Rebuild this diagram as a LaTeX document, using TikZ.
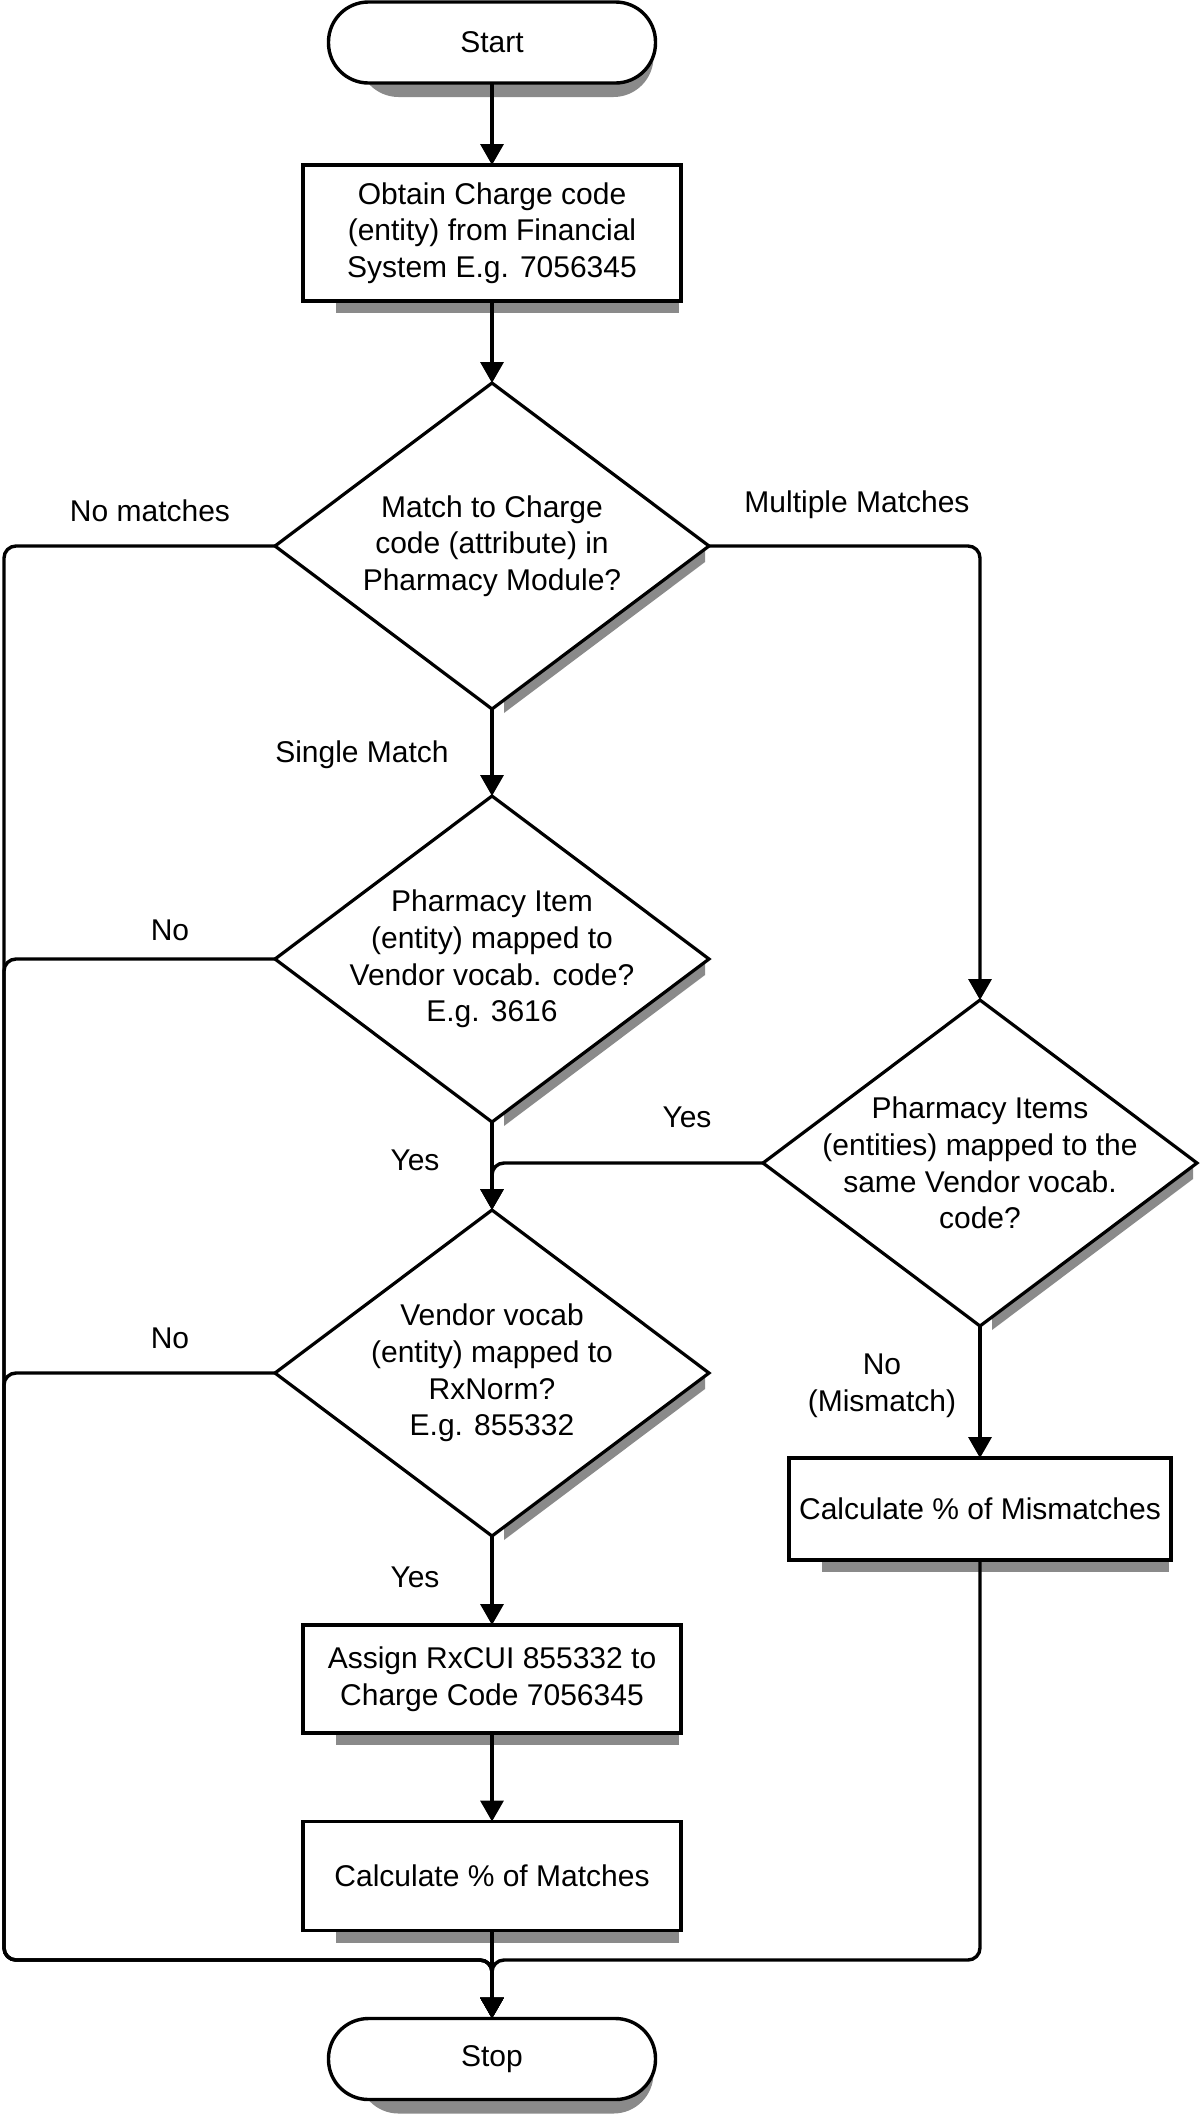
\documentclass[tikz,border=0pt]{standalone}
\usepackage{fontspec}
\setmainfont{Liberation Sans}
\usetikzlibrary{shapes.geometric,arrows.meta,backgrounds}
\definecolor{shd}{RGB}{138,138,138}
\begin{document}
\begin{tikzpicture}[x=0.5pt,y=-0.5pt,
  txt/.style={font=\fontsize{15pt}{18.3pt}\selectfont, align=center, inner sep=0pt},
  term/.style={draw, line width=1.7pt, fill=white, rounded corners=20pt, minimum width=163.5pt, minimum height=40.5pt, inner sep=0pt, outer sep=0pt, txt},
  proc/.style={draw, line width=1.7pt, fill=white, minimum width=189pt, inner sep=0pt, outer sep=0pt, txt},
  dec/.style={draw, diamond, line width=1.6pt, fill=white, minimum width=217pt, minimum height=163pt, inner sep=0pt, outer sep=0pt},
  conn/.style={draw, line width=1.7pt, rounded corners=6pt, -{Triangle[length=10.5pt,width=11.5pt]}},
  lbl/.style={txt}
]
\useasboundingbox (0,0) rectangle (1200,2115);

% nodes
\node[term] (start) at (492,42.5) {Start};
\node[proc, minimum height=68pt] (b1) at (492,233) {Obtain Charge code\\(entity) from Financial\\System E.g. 7056345};
\node[dec] (d1) at (492,546) {};
\node[txt] (d1t) at (d1) {Match to Charge\\code (attribute) in\\Pharmacy Module?};
\node[dec] (d2) at (492,959) {};
\node[txt] (d2t) at (d2) {Pharmacy Item\\(entity) mapped to\\Vendor vocab. code?\\E.g. 3616};
\node[dec] (d3) at (492,1373) {};
\node[txt] (d3t) at (d3) {Vendor vocab\\(entity) mapped to\\RxNorm?\\E.g. 855332};
\node[dec] (d4) at (980,1163) {};
\node[txt] (d4t) at (d4) {Pharmacy Items\\(entities) mapped to the\\same Vendor vocab.\\code?};
\node[proc, minimum height=54pt] (assign) at (492,1679) {Assign RxCUI 855332 to\\Charge Code 7056345};
\node[proc, minimum height=54.5pt] (match) at (492,1876) {Calculate \% of Matches};
\node[proc, minimum width=191pt, minimum height=51pt] (mism) at (980,1509) {Calculate \% of Mismatches};
\node[term] (stop) at (492,2059) {Stop};

% labels
\node[lbl] (lnm) at (150,511) {No matches};
\node[lbl] (lmm) at (857,505) {Multiple Matches};
\node[lbl] (lsm) at (362,755) {Single Match};
\node[lbl] (lno2) at (170,930) {No};
\node[lbl] (lyes2) at (415,1160) {Yes};
\node[lbl] (lyes4) at (687,1117) {Yes};
\node[lbl] (lno3) at (170,1338) {No};
\node[lbl] (lyes3) at (415,1577) {Yes};
\node[lbl] (lnomis) at (882,1386) {No\\(Mismatch)};

% shadows
\begin{scope}[on background layer]
  \foreach \t in {start,stop}{
    \fill[shd, rounded corners=20pt] ([xshift=15pt,yshift=-7pt]\t.south west) rectangle ([xshift=-1pt,yshift=-7pt]\t.north east);
  }
  \foreach \b in {b1,assign,match,mism}{
    \fill[shd] ([xshift=16.5pt]\b.south west) rectangle ([xshift=-1pt,yshift=-6pt]\b.south east);
  }
  \foreach \d in {d1,d2,d3,d4}{
    \begin{scope}
      \clip ([xshift=6pt,yshift=-20pt]\d.south) rectangle ([xshift=-2pt]\d.east);
      \fill[shd] ([shift={(2pt,-5pt)}]\d.north) -- ([shift={(2pt,-5pt)}]\d.east) -- ([shift={(2pt,-5pt)}]\d.south) -- ([shift={(2pt,-5pt)}]\d.west) -- cycle;
    \end{scope}
  }
\end{scope}

% corner coordinates
\coordinate (L1) at (4,546);
\coordinate (LB) at (4,1960);
\coordinate (M) at (492,1960);
\coordinate (RB) at (980,1960);
\coordinate (R1) at (980,546);

% connectors
\draw[conn] (start.south) -- (b1.north);
\draw[conn] (b1.south) -- (d1.north);
\draw[conn] (d1.south) -- (d2.north);
\draw[conn] (d2.south) -- (d3.north);
\draw[conn] (d3.south) -- (assign.north);
\draw[conn] (assign.south) -- (match.north);
\draw[conn] (match.south) -- (stop.north);
\draw[conn] (d1.west) -- (L1) -- (LB) -- (M) -- (stop.north);
\draw[conn] (d2.west) -| (LB) -- (M) -- (stop.north);
\draw[conn] (d3.west) -| (LB) -- (M) -- (stop.north);
\draw[conn] (d1.east) -- (R1) -- (d4.north);
\draw[conn] (d4.west) -| (d3.north);
\draw[conn] (d4.south) -- (mism.north);
\draw[conn] (mism.south) -- (RB) -- (M) -- (stop.north);
\end{tikzpicture}
\end{document}
